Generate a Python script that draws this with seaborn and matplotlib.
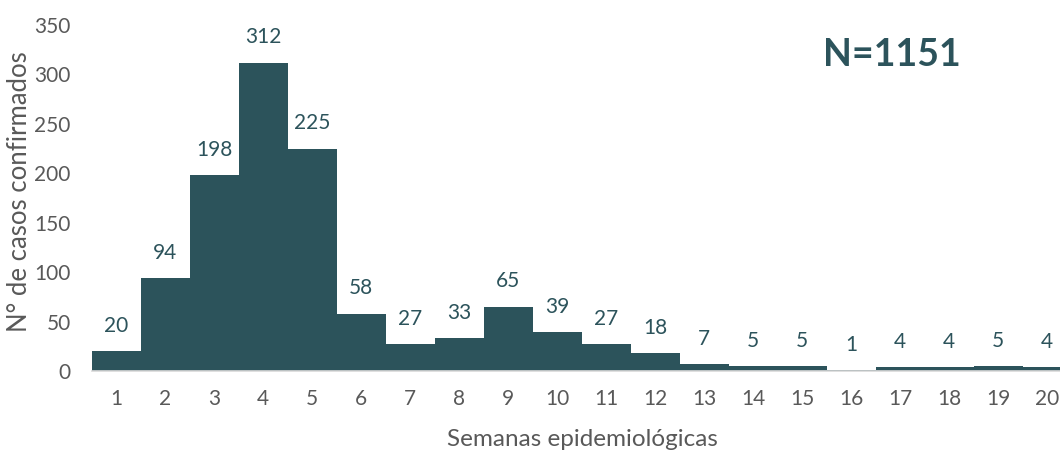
import matplotlib
matplotlib.use("Agg")
import matplotlib.pyplot as plt
import seaborn as sns
import pandas as pd

weeks = [str(i) for i in range(1, 21)]
cases = [20, 94, 198, 312, 225, 58, 27, 33, 65, 39, 27, 18, 7, 5, 5, 1, 4, 4, 5, 4]
y_ticks = [0, 50, 100, 150, 200, 250, 300, 350]
total_label = "N=1151"

sns.set_theme(style="white")
plt.rcParams['font.family'] = ['Lato', 'DejaVu Sans']

bar_color = "#2C535B"
gray = "#595959"

fig = plt.figure(figsize=(10.6, 4.54), dpi=100)
ax = fig.add_axes([91.5 / 1060, 83 / 454, 980 / 1060, 346 / 454])

df = pd.DataFrame({"week": weeks, "cases": cases})
sns.barplot(data=df, x="week", y="cases", width=1.0, color=bar_color,
            saturation=1, ax=ax, order=weeks, linewidth=0, edgecolor=bar_color)

ax.set_ylim(0, 350)
ax.set_xlim(-0.5, len(weeks) - 0.5)
ax.set_yticks(y_ticks)
ax.tick_params(axis='both', length=0, labelsize=15, colors=gray)
ax.tick_params(axis='x', pad=13)
ax.tick_params(axis='y', pad=15)
for s in ["top", "right", "left"]:
    ax.spines[s].set_visible(False)
ax.spines["bottom"].set_color("#D9D9D9")
ax.spines["bottom"].set_linewidth(1.2)

for i, v in enumerate(cases):
    ax.annotate(str(v), (i, v), xytext=(0, 11), textcoords="offset points",
                ha="center", va="bottom", fontsize=15, color=bar_color)

ax.set_xlabel("Semanas epidemiológicas", fontsize=17.5, color=gray)
ax.set_ylabel("N° de casos confirmados", fontsize=18.5, color=gray)
ax.xaxis.set_label_coords((582 - 91.5) / 980, -69 / 346)
ax.yaxis.set_label_coords((20 - 91.5) / 980, (454 - 83 - 192) / 346)
ax.xaxis.label.set_va("center")
ax.yaxis.label.set_va("center")

fig.text(892 / 1060, 1 - 55 / 454, total_label, fontsize=27, fontweight="bold",
         color=bar_color, ha="center", va="center")

fig.savefig("out.png", dpi=100)
